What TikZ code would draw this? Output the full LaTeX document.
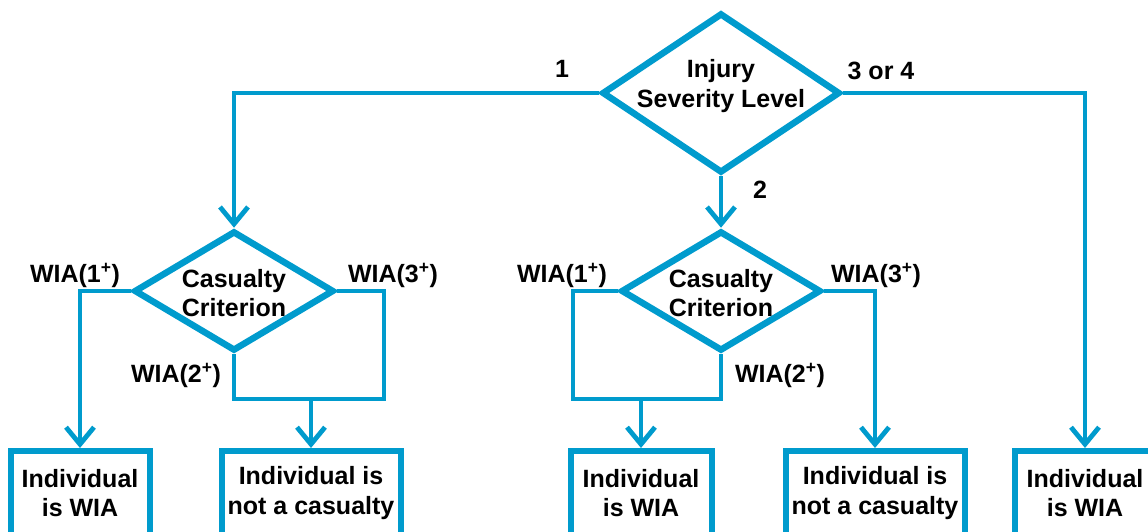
\documentclass[tikz,border=0pt]{standalone}
\usepackage{fontspec}
\setmainfont{Liberation Sans}
\usetikzlibrary{shapes.geometric,arrows.meta}
\definecolor{wiablue}{RGB}{0,155,205}
\begin{document}
\begin{tikzpicture}[x=1pt,y=-1pt,
  font=\bfseries\fontsize{25}{29.5}\selectfont,
  decide/.style={diamond,draw=wiablue,line width=6.5pt,inner sep=0pt},
  txt/.style={align=center,inner sep=0pt},
  outcome/.style={rectangle,draw=wiablue,line width=6pt,align=center,
    minimum height=84pt,inner sep=0pt},
  conn/.style={draw=wiablue,line width=4.8pt},
  arr/.style={conn,-{Straight Barb[length=17pt,width=28pt]}}]
\useasboundingbox (0,0) rectangle (1148,532);
\clip (0,0) rectangle (1148,532);
% decisions
\node[decide,minimum width=238pt,minimum height=160pt] (sev) at (721,93) {};
\node[txt] (sevtxt) at (721,86) {Injury\\Severity Level};
\node[decide,minimum width=200pt,minimum height=120pt] (cd1) at (234,291) {};
\node[txt] (cd1txt) at (234,293) {Casualty\\Criterion};
\node[decide,minimum width=200pt,minimum height=120pt] (cd2) at (721,291) {};
\node[txt] (cd2txt) at (721,293) {Casualty\\Criterion};
% outcomes
\node[outcome,minimum width=139pt] (w1) at (80,493) {Individual\\is WIA};
\node[outcome,minimum width=179pt] (w2) at (311,493) {Individual is\\not a casualty};
\node[outcome,minimum width=141pt] (w3) at (641,493) {Individual\\is WIA};
\node[outcome,minimum width=179pt] (w4) at (875,493) {Individual is\\not a casualty};
\node[outcome,minimum width=141pt] (w5) at (1085,493) {Individual\\is WIA};
\coordinate (r1) at (384,399);
\coordinate (l2) at (573,399);
% severity branches
\draw[arr] (sev.west) -| (cd1.north);
\draw[arr] (sev.south) -- (cd2.north);
\draw[arr] (sev.east) -| (w5.north);
\node (s1) at (562,69) {1};
\node (s2) at (760,190) {2};
\node (s34) at (881,71) {3 or 4};
% left criterion
\draw[arr] (cd1.west) -| (w1.north);
\draw[conn] (cd1.east) -| (r1) -| (cd1.south);
\draw[arr] (w2.north |- r1) -- (w2.north);
\node (a1) at (75,275) {WIA(1\textsuperscript{+})};
\node (a3) at (393,275) {WIA(3\textsuperscript{+})};
\node (a2) at (176,375) {WIA(2\textsuperscript{+})};
% middle criterion
\draw[conn] (cd2.west) -| (l2) -| (cd2.south);
\draw[arr] (w3.north |- l2) -- (w3.north);
\draw[arr] (cd2.east) -| (w4.north);
\node (b1) at (562,275) {WIA(1\textsuperscript{+})};
\node (b3) at (876,275) {WIA(3\textsuperscript{+})};
\node (b2) at (780,375) {WIA(2\textsuperscript{+})};
\end{tikzpicture}
\end{document}
